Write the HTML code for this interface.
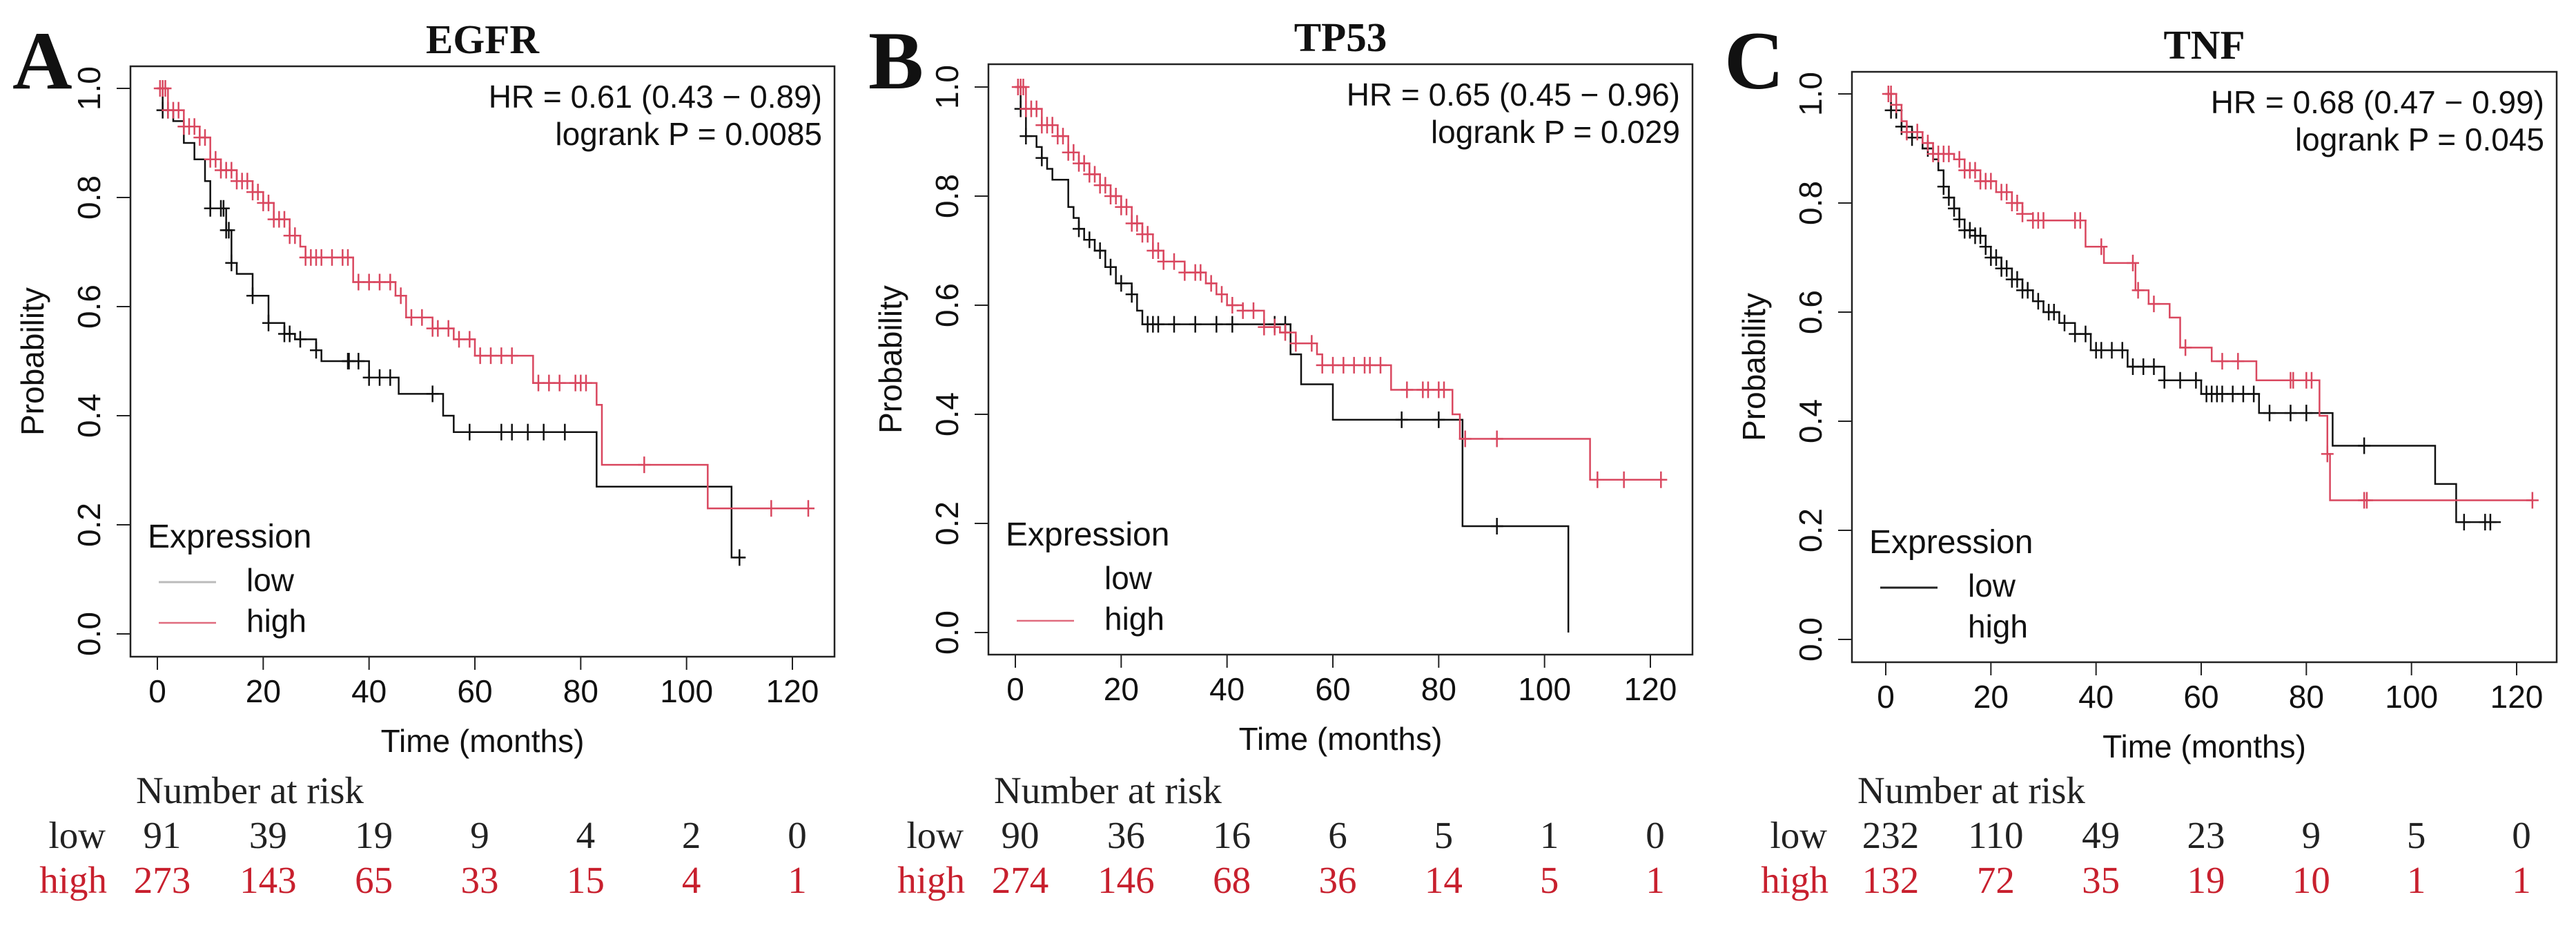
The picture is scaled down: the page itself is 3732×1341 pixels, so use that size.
<!DOCTYPE html>
<html><head><meta charset="utf-8"><style>
body{margin:0;background:#fff}
svg text{font-family:"Liberation Sans",sans-serif}
.serif{font-family:"Liberation Serif",serif}
</style></head><body>
<svg id="fig" width="3732" height="1336" viewBox="0 0 3732 1336" xmlns="http://www.w3.org/2000/svg"></svg>
<script>
// ---- data ----
const riskTimes = [0,20,40,60,80,100,120];
const xTicks = [0,20,40,60,80,100,120];
const yTicks = [0.0,0.2,0.4,0.6,0.8,1.0];

const A_lowT = [0,1,3,5,7,9,10,13,14,15,18,21,24,26,30,31,40,45.6,54,56,83,108.5,111];
const A_lowS = [1,0.96,0.94,0.9,0.87,0.83,0.78,0.74,0.68,0.66,0.62,0.57,0.55,0.54,0.52,0.5,0.47,0.44,0.40,0.37,0.27,0.14,0.14];
const A_lowC = [1,2,10,12,12.5,13,13.5,14,18,21,24,25,27,30,36,36.2,38,40,42,44,52,59,65,67,70,73,77,110];
const A_highT = [0,2,5,8,10,12,15,18,20,22,25,27,28,37,45,47,52,56,60,71,83,84,104,123];
const A_highS = [1,0.96,0.93,0.91,0.87,0.85,0.83,0.81,0.79,0.76,0.73,0.71,0.69,0.645,0.62,0.58,0.56,0.54,0.51,0.46,0.42,0.31,0.23,0.23];
const A_highC = [0.5,1,1.5,2,3,4,5,6,7,8,9,10,11,12,13,14,15,16,17,18,19,20,21,22,23,24,25,26,28,29,30,31,33,35,36,38,40,42,44,46,48,50,52,53,55,57,59,61,63,65,67,72,74,76,79,80,81,92,116,123];
const A_riskLow = [91,39,19,9,4,2,0];
const A_riskHigh = [273,143,65,33,15,4,1];

const B_lowT = [0,1,2,4,5,6,7,10,11,12,13,15,17,19,22,23,24,52,54,60,84.5,104.5];
const B_lowS = [1,0.96,0.91,0.89,0.87,0.85,0.83,0.78,0.76,0.74,0.72,0.70,0.67,0.64,0.62,0.59,0.565,0.51,0.455,0.39,0.195,0];
const B_lowC = [1,2,5,12,14,16,18,20,22,25,26,27,30,34,38,41,49,51,73,80,91];
const B_highT = [0,2,5,8,10,12,14,16,18,20,22,24,26,28,32,36,38,40,43,47,50,53,57,58,71,82.6,84,108.6,123];
const B_highS = [1,0.96,0.93,0.91,0.88,0.86,0.84,0.82,0.80,0.78,0.75,0.73,0.70,0.68,0.66,0.64,0.62,0.60,0.59,0.56,0.55,0.53,0.51,0.49,0.445,0.40,0.355,0.28,0.28];
const B_highC = [0.5,1,1.5,2,3,4,5,6,7,8,9,10,11,12,13,14,15,16,17,18,19,20,21,22,23,24,25,26,27,28,30,32,34,35,37,39,41,43,45,47,49,51,53,56,58,60,62,64,66,67,69,74,77,78,80,81,85,91,110,115,122];
const B_riskLow = [90,36,16,6,5,1,0];
const B_riskHigh = [274,146,68,36,14,5,1];

const C_lowT = [0,1,3,5,7,9,10,11,12,13,14,15,17,19,20,22,24,26,28,30,33,36,39,46,53,60,71,85,104.5,108.5,117];
const C_lowS = [1,0.97,0.94,0.92,0.90,0.88,0.86,0.83,0.81,0.79,0.77,0.75,0.74,0.72,0.70,0.68,0.66,0.64,0.62,0.60,0.58,0.56,0.53,0.50,0.475,0.45,0.415,0.355,0.285,0.215,0.215];
const C_lowC = [1,2,3,5,8,11,12,13,14,15,16,17,18,19,20,21,22,23,24,25,26,27,29,31,32,34,36,38,40,41,43,45,47,49,51,53,56,59,61,62,63,64,66,68,70,73,77,80,91,110,114,115];
const C_highT = [0,2,3,4,7,9,13,15,18,21,24,26,28,38,41.5,47.5,50,54,56,62,70.5,82.5,84,84.5,123];
const C_highS = [1,0.98,0.95,0.93,0.91,0.89,0.88,0.86,0.84,0.82,0.80,0.78,0.768,0.72,0.69,0.64,0.615,0.59,0.535,0.51,0.475,0.41,0.34,0.255,0.255];
const C_highC = [0.5,1,2,4,6,8,9,10,11,12,14,15,16,17,18,19,20,22,23,24,25,26,28,29,30,36,37,41,47,48,51,57,64,67,77,77.5,80,81,84,91,91.5,123];
const C_riskLow = [232,110,49,23,9,5,0];
const C_riskHigh = [132,72,35,19,10,1,1];

const panels = [
 {letter:"A",title:"EGFR",ox:0,box:[189,96,1209,951],x0:228,x120:1148,y0:918,y1:128,hr:"HR = 0.61 (0.43 − 0.89)",p:"logrank P = 0.0085",
  lowT:A_lowT,lowS:A_lowS,lowC:A_lowC,highT:A_highT,highS:A_highS,highC:A_highC,rl:A_riskLow,rh:A_riskHigh,legLow:"#bbb",legHigh:"#e06b7e"},
 {letter:"B",title:"TP53",ox:1240,box:[192,93,1212,948],x0:231,x120:1151,y0:916,y1:126,hr:"HR = 0.65 (0.45 − 0.96)",p:"logrank P = 0.029",
  lowT:B_lowT,lowS:B_lowS,lowC:B_lowC,highT:B_highT,highS:B_highS,highC:B_highC,rl:B_riskLow,rh:B_riskHigh,legLow:null,legHigh:"#e06b7e"},
 {letter:"C",title:"TNF",ox:2480,box:[203,104,1224,959],x0:252,x120:1166,y0:926,y1:136,hr:"HR = 0.68 (0.47 − 0.99)",p:"logrank P = 0.045",
  lowT:C_lowT,lowS:C_lowS,lowC:C_lowC,highT:C_highT,highS:C_highS,highC:C_highC,rl:C_riskLow,rh:C_riskHigh,legLow:"#222",legHigh:null}
];
const RED="#d9475f", DARKRED="#c8202e";
const svg=document.getElementById('fig');
const NS="http://www.w3.org/2000/svg";
function mk(tag,attrs,parent,txt){const e=document.createElementNS(NS,tag);for(const k in attrs)e.setAttribute(k,attrs[k]);if(txt!==undefined)e.textContent=txt;parent.appendChild(e);return e;}
function stepAt(T,S,t){let v=S[0];for(let i=0;i<T.length;i++){if(T[i]<=t)v=S[i];}return v;}

panels.forEach((P,pi)=>{
  const g=mk('g',{transform:`translate(${P.ox},0)`},svg);
  
  
  const X=t=>P.x0+(P.x120-P.x0)*t/120, Y=s=>P.y0+(P.y1-P.y0)*s;
  const [bl,bt,br,bb]=P.box;
  const dy=bt-96;
  let e;
  e=mk('text',{x:18,y:128,'font-size':120,'font-weight':'bold',class:'serif',fill:'#111'},g,P.letter);
  
  e=mk('text',{x:(bl+br)/2,y:77+dy,'font-size':59,'font-weight':'bold',class:'serif','text-anchor':'middle',fill:'#111'},g,P.title);
  
  e=mk('rect',{x:bl,y:bt,width:br-bl,height:bb-bt,fill:'none',stroke:'#222','stroke-width':2.5},g);
  
  xTicks.forEach(t=>{
    e=mk('line',{x1:X(t),x2:X(t),y1:bb,y2:bb+19,stroke:'#222','stroke-width':2},g);
    
    e=mk('text',{x:X(t),y:bb+66,'font-size':46,'text-anchor':'middle',fill:'#111'},g,String(t));
    
  });
  yTicks.forEach(v=>{
    e=mk('line',{x1:bl,x2:bl-20,y1:Y(v),y2:Y(v),stroke:'#222','stroke-width':2},g);
    
    e=mk('text',{x:0,y:0,'font-size':46,'text-anchor':'middle',fill:'#111',transform:`translate(${bl-44},${Y(v)}) rotate(-90)`},g,v.toFixed(1));
    
  });
  e=mk('text',{x:(bl+br)/2,y:bb+138,'font-size':46,'text-anchor':'middle',fill:'#111'},g,'Time (months)');
  
  e=mk('text',{x:0,y:0,'font-size':46,'text-anchor':'middle',fill:'#111',transform:`translate(${bl-126},${(bt+bb)/2}) rotate(-90)`},g,'Probability');
  
  e=mk('text',{x:br-18,y:bt+60,'font-size':46,'text-anchor':'end',fill:'#111'},g,P.hr);
  
  e=mk('text',{x:br-18,y:bt+114,'font-size':46,'text-anchor':'end',fill:'#111'},g,P.p);
  
  const drawCurve=(T,S,C,color,name)=>{
    let d=`M${X(T[0])},${Y(S[0])}`;
    for(let i=1;i<T.length;i++){d+=` H${X(T[i])} V${Y(S[i])}`;}
    let c=mk('path',{d:d,fill:'none',stroke:color,'stroke-width':2.5},g);
    
    C.forEach(t=>{
      const x=X(t),y=Y(stepAt(T,S,t));
      let m=mk('path',{d:`M${x},${y-12} V${y+12} M${x-9},${y} H${x+9}`,stroke:color,'stroke-width':2.5,fill:'none'},g);
      
    });
  };
  drawCurve(P.lowT,P.lowS,P.lowC,'#111','low');
  drawCurve(P.highT,P.highS,P.highC,RED,'high');
  e=mk('text',{x:bl+25,y:bb-158,'font-size':48,fill:'#111'},g,'Expression');
  
  if(P.legLow){e=mk('line',{x1:bl+41,x2:bl+124,y1:bb-108,y2:bb-108,stroke:P.legLow,'stroke-width':3},g);
    }
  if(P.legHigh){e=mk('line',{x1:bl+41,x2:bl+124,y1:bb-49,y2:bb-49,stroke:P.legHigh,'stroke-width':2.5},g);
    }
  e=mk('text',{x:bl+168,y:bb-95,'font-size':46,fill:'#111'},g,'low');
  
  e=mk('text',{x:bl+168,y:bb-36,'font-size':46,fill:'#111'},g,'high');
  
  e=mk('text',{x:bl+8,y:1163,'font-size':55,class:'serif',fill:'#222'},g,'Number at risk');
  
  e=mk('text',{x:bl-36,y:1228,'font-size':55,class:'serif','text-anchor':'end',fill:'#222'},g,'low');
  
  e=mk('text',{x:bl-34,y:1293,'font-size':55,class:'serif','text-anchor':'end',fill:DARKRED},g,'high');
  
  riskTimes.forEach((t,i)=>{
    e=mk('text',{x:X(t)+7,y:1228,'font-size':55,class:'serif','text-anchor':'middle',fill:'#222'},g,String(P.rl[i]));
    
    e=mk('text',{x:X(t)+7,y:1293,'font-size':55,class:'serif','text-anchor':'middle',fill:DARKRED},g,String(P.rh[i]));
    
  });
});
</script>
</body></html>
